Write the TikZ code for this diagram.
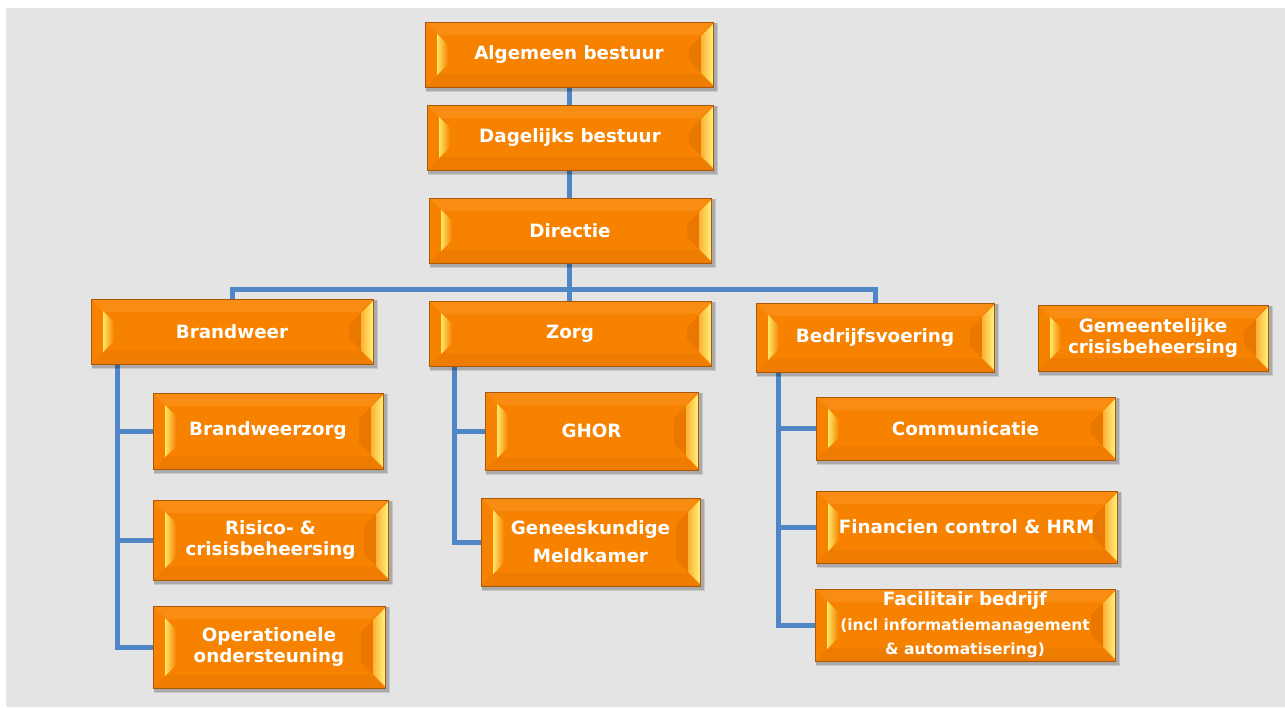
\documentclass[tikz,border=0pt]{standalone}
\usepackage{fontspec}
\setmainfont{DejaVu Sans}
\usetikzlibrary{calc}
\definecolor{bgc}{HTML}{E4E4E4}
\definecolor{orf}{HTML}{F68200}
\definecolor{ortop}{HTML}{F98C12}
\definecolor{orbot}{HTML}{EE7C00}
\definecolor{ordark}{HTML}{EA7800}
\definecolor{orbd}{HTML}{A85808}
\definecolor{yel}{HTML}{FFE866}
\definecolor{yel2}{HTML}{FFF27C}
\definecolor{lnc}{HTML}{4F87C6}
\pgfdeclarelayer{back}
\pgfdeclarelayer{mid}
\pgfdeclarelayer{shad}
\pgfsetlayers{back,mid,shad,main}
\tikzset{
  obox/.style={rectangle, draw=orbd, line width=0.9pt, fill=orf, text=white,
    font=\bfseries\fontsize{18.3}{21}\selectfont, align=center, inner sep=0pt,
    path picture={
      \coordinate (@SW) at (path picture bounding box.south west);
      \coordinate (@NE) at (path picture bounding box.north east);
      \coordinate (@NW) at (path picture bounding box.north west);
      \coordinate (@SE) at (path picture bounding box.south east);
      \fill[ortop] (@NW) -- (@NE) -- ($(@NE)+(-13pt,-13pt)$) -- ($(@NW)+(13pt,-13pt)$) -- cycle;
      \fill[orbot] (@SW) -- (@SE) -- ($(@SE)+(-13pt,13pt)$) -- ($(@SW)+(13pt,13pt)$) -- cycle;
      \shade[left color=yel, right color=orf] ($(@NW)+(12pt,-12pt)$) -- ($(@NW)+(23pt,-23pt)$) -- ($(@SW)+(23pt,23pt)$) -- ($(@SW)+(12pt,12pt)$) -- cycle;
      \fill[ordark] ($(@NE)+(-12pt,-14pt)$) -- ($(@NE)+(-24pt,-26pt)$) -- ($(@SE)+(-24pt,26pt)$) -- ($(@SE)+(-12pt,14pt)$) -- cycle;
      \shade[left color=ortop!60!yel, right color=yel2] ($(@NE)+(0pt,-2pt)$) -- ($(@NE)+(-12pt,-14pt)$) -- ($(@SE)+(-12pt,14pt)$) -- ($(@SE)+(0pt,2pt)$) -- cycle;
    }},
  conn/.style={draw=lnc, line width=5pt}
}
\newcommand\smallline[1]{{\bfseries\fontsize{15.5}{18}\selectfont #1}}
\begin{document}
\begin{tikzpicture}[x=1pt,y=-1pt]
\useasboundingbox (0,0) rectangle (1285,707);
\begin{pgfonlayer}{back}
\fill[bgc] (6,8) rectangle (1285,707);
\end{pgfonlayer}

\node[obox, minimum width=288pt, minimum height=65pt] (alg) at (569,54.5) {Algemeen bestuur};
\node[obox, minimum width=286pt, minimum height=65pt] (dag) at (570,137.5) {Dagelijks bestuur};
\node[obox, minimum width=282pt, minimum height=65pt] (dir) at (570,230.5) {Directie};
\node[obox, minimum width=282pt, minimum height=65pt] (brw) at (232,331.5) {Brandweer};
\node[obox, minimum width=282pt, minimum height=65pt] (zorg) at (570,333.5) {Zorg};
\node[obox, minimum width=238pt, minimum height=69pt] (bed) at (875,337.5) {Bedrijfsvoering};
\node[obox, minimum width=230pt, minimum height=66pt] (gem) at (1153,338) {Gemeentelijke\\crisisbeheersing};
\node[obox, minimum width=230pt, minimum height=76pt] (bz) at (268,431) {Brandweerzorg};
\node[obox, minimum width=235pt, minimum height=80pt] (ris) at (270.5,540) {Risico- \&\\crisisbeheersing};
\node[obox, minimum width=232pt, minimum height=82pt] (ops) at (269,647) {Operationele\\ondersteuning};
\node[obox, minimum width=213pt, minimum height=78pt] (ghor) at (591.5,431) {GHOR};
\node[obox, minimum width=219pt, minimum height=88pt] (gen) at (590.5,542) {Geneeskundige\\[7pt]Meldkamer};
\node[obox, minimum width=299pt, minimum height=63pt] (com) at (965.5,428.5) {Communicatie};
\node[obox, minimum width=301pt, minimum height=72pt] (fin) at (966.5,527) {Financien control \& HRM};
\node[obox, minimum width=300pt, minimum height=72pt] (fac) at (965,625) {Facilitair bedrijf\\[4pt]\smallline{(incl informatiemanagement}\\[3pt]\smallline{\& automatisering)}};

\coordinate (bus) at (569,289);
\begin{pgfonlayer}{mid}
\draw[conn] (alg.center) -- (alg.center |- zorg.north);
\draw[conn] (brw.north) |- (bus) -| (bed.north);
\draw[conn] ([xshift=27pt]brw.south west) |- (ops.west);
\draw[conn] ([xshift=27pt]brw.south west) |- (bz.west);
\draw[conn] ([xshift=27pt]brw.south west) |- (ris.west);
\draw[conn] ([xshift=26pt]zorg.south west) |- (gen.west);
\draw[conn] ([xshift=26pt]zorg.south west) |- (ghor.west);
\draw[conn] ([xshift=23pt]bed.south west) |- (fac.west);
\draw[conn] ([xshift=23pt]bed.south west) |- (com.west);
\draw[conn] ([xshift=23pt]bed.south west) |- (fin.west);
\end{pgfonlayer}

\begin{pgfonlayer}{shad}
\foreach \n in {alg,dag,dir,brw,zorg,bed,gem,bz,ris,ops,ghor,gen,com,fin,fac}{
  \fill[black, opacity=0.12] ([shift={(1pt,-5pt)}]\n.south west) rectangle ([shift={(5pt,-1pt)}]\n.north east);
  \fill[black, opacity=0.15] ([shift={(1pt,-3.5pt)}]\n.south west) rectangle ([shift={(3.5pt,-1pt)}]\n.north east);
}
\end{pgfonlayer}
\end{tikzpicture}
\end{document}
